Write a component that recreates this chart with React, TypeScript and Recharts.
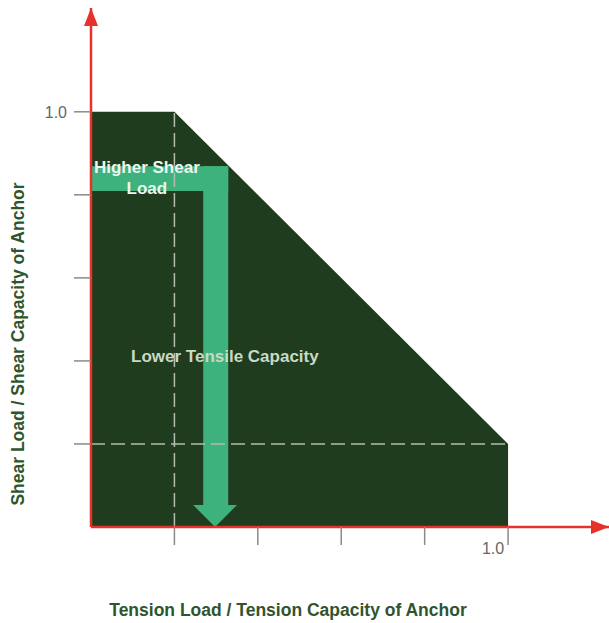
import React from 'react';
import {
  ComposedChart,
  Area,
  XAxis,
  YAxis,
  ReferenceLine,
  ReferenceArea,
  ReferenceDot,
} from 'recharts';

// Interaction envelope (tension ratio vs shear ratio)
const envelopeX = [0, 0.2, 1.0];
const envelopeY = [1.0, 1.0, 0.2];

const xTicks = [0.2, 0.4, 0.6, 0.8, 1.0];
const yTicks = [0.2, 0.4, 0.6, 0.8, 1.0];
const labeledTick = 1.0;
const labeledTickText = '1.0';

// Dashed guide lines
const guideX = 0.2;
const guideY = 0.2;

// Green annotation arrow
const arrowBarX = [0, 0.329];
const arrowBarY = [0.809, 0.869];
const arrowShaftX = [0.269, 0.329];
const arrowShaftY = [0.053, 0.869];
const arrowHeadX = [0.245, 0.35];
const arrowHeadY = [0, 0.053];

// Annotation texts: [text, x, y]
const annotations: [string, number, number, string][] = [
  ['Higher Shear', 0.134, 0.867, '#eef5ee'],
  ['Load', 0.134, 0.816, '#eef5ee'],
  ['Lower Tensile Capacity', 0.321, 0.412, '#c9d9c4'],
];

const xTitle = 'Tension Load / Tension Capacity of Anchor';
const yTitle = 'Shear Load / Shear Capacity of Anchor';

const data = envelopeX.map((x, i) => ({ x, y: envelopeY[i] }));

const FONT = '"Liberation Sans", Arial, Helvetica, sans-serif';
const RED = '#e5322b';
const DARK = '#1f3d1e';
const LIGHT = '#3db27c';
const TITLE = '#2f552f';

const XTick = (props: any) => {
  const { x, y, payload } = props;
  if (payload.value !== labeledTick) return <g />;
  return (
    <text x={x - 15} y={y + 7} textAnchor="middle" fill="#666" fontSize={16} fontFamily={FONT}>
      {labeledTickText}
    </text>
  );
};

const YTick = (props: any) => {
  const { x, y, payload } = props;
  if (payload.value !== labeledTick) return <g />;
  return (
    <text x={x - 5} y={y + 6} textAnchor="end" fill="#666" fontSize={16} fontFamily={FONT}>
      {labeledTickText}
    </text>
  );
};

const XTitle = (props: any) => {
  const vb = props.viewBox || { x: 91, y: 527 };
  return (
    <text
      x={vb.x + 197}
      y={vb.y + 89}
      textAnchor="middle"
      fill={TITLE}
      fontSize={17.5}
      fontWeight="bold"
      fontFamily={FONT}
    >
      {xTitle}
    </text>
  );
};

const YTitle = (props: any) => {
  const vb = props.viewBox || { x: 0, y: 8 };
  const cx = vb.x + 18;
  const cy = vb.y + 336;
  return (
    <text
      x={cx}
      y={cy}
      transform={`rotate(-90, ${cx}, ${cy})`}
      textAnchor="middle"
      dominantBaseline="central"
      fill={TITLE}
      fontSize={17.5}
      fontWeight="bold"
      fontFamily={FONT}
    >
      {yTitle}
    </text>
  );
};

const HeadShape = (props: any) => {
  const { x, y, width, height } = props;
  return (
    <polygon
      points={`${x},${y} ${x + width},${y} ${x + width / 2},${y + height}`}
      fill={LIGHT}
    />
  );
};

export default function App() {
  return (
    <div style={{ position: 'absolute', left: 0, top: 0, width: 609, height: 623, background: '#fff' }}>
      <ComposedChart
        width={609}
        height={623}
        data={data}
        margin={{ top: 8, right: 0, bottom: 0, left: 0 }}
      >
        <defs>
          <marker
            id="axisArrow"
            viewBox="0 0 18 14"
            refX={18}
            refY={7}
            markerWidth={18}
            markerHeight={14}
            markerUnits="userSpaceOnUse"
            orient="auto-start-reverse"
          >
            <path d="M0,0 L18,7 L0,14 z" fill={RED} />
          </marker>
        </defs>
        <Area
          type="linear"
          dataKey="y"
          baseValue={0}
          fill={DARK}
          fillOpacity={1}
          stroke="none"
          isAnimationActive={false}
          dot={false}
          activeDot={false}
        />
        <ReferenceLine
          segment={[{ x: guideX, y: 0 }, { x: guideX, y: 1.0 }]}
          stroke="#b3bcae"
          strokeWidth={1.5}
          strokeDasharray="14 6"
        />
        <ReferenceLine
          segment={[{ x: 0, y: guideY }, { x: 1.0, y: guideY }]}
          stroke="#b3bcae"
          strokeWidth={1.5}
          strokeDasharray="14 6"
        />
        <ReferenceArea
          x1={arrowBarX[0]}
          x2={arrowBarX[1]}
          y1={arrowBarY[0]}
          y2={arrowBarY[1]}
          fill={LIGHT}
          fillOpacity={1}
          stroke="none"
        />
        <ReferenceArea
          x1={arrowShaftX[0]}
          x2={arrowShaftX[1]}
          y1={arrowShaftY[0]}
          y2={arrowShaftY[1]}
          fill={LIGHT}
          fillOpacity={1}
          stroke="none"
        />
        <ReferenceArea
          x1={arrowHeadX[0]}
          x2={arrowHeadX[1]}
          y1={arrowHeadY[0]}
          y2={arrowHeadY[1]}
          shape={HeadShape}
        />
        {annotations.map(([t, x, y, c]) => (
          <ReferenceDot
            key={t}
            x={x}
            y={y}
            r={1}
            fill="none"
            stroke="none"
            ifOverflow="visible"
            label={{
              value: t,
              position: 'center',
              fill: c,
              fontSize: 17,
              fontWeight: 'bold',
              fontFamily: FONT,
            }}
          />
        ))}
        <XAxis
          type="number"
          dataKey="x"
          domain={[0, 1.242]}
          allowDataOverflow
          ticks={xTicks}
          height={96}
          tickSize={18}
          tickMargin={2}
          tickLine={{ stroke: '#8a8a8a', strokeWidth: 1.5 }}
          axisLine={{ stroke: RED, strokeWidth: 2.5, markerEnd: 'url(#axisArrow)' }}
          tick={XTick}
          label={{ content: XTitle }}
        />
        <YAxis
          type="number"
          domain={[0, 1.25]}
          allowDataOverflow
          ticks={yTicks}
          width={91}
          tickSize={17}
          tickMargin={2}
          tickLine={{ stroke: '#8a8a8a', strokeWidth: 1.5 }}
          axisLine={{ stroke: RED, strokeWidth: 2.5, markerStart: 'url(#axisArrow)' }}
          tick={YTick}
          label={{ content: YTitle }}
        />
      </ComposedChart>
    </div>
  );
}
